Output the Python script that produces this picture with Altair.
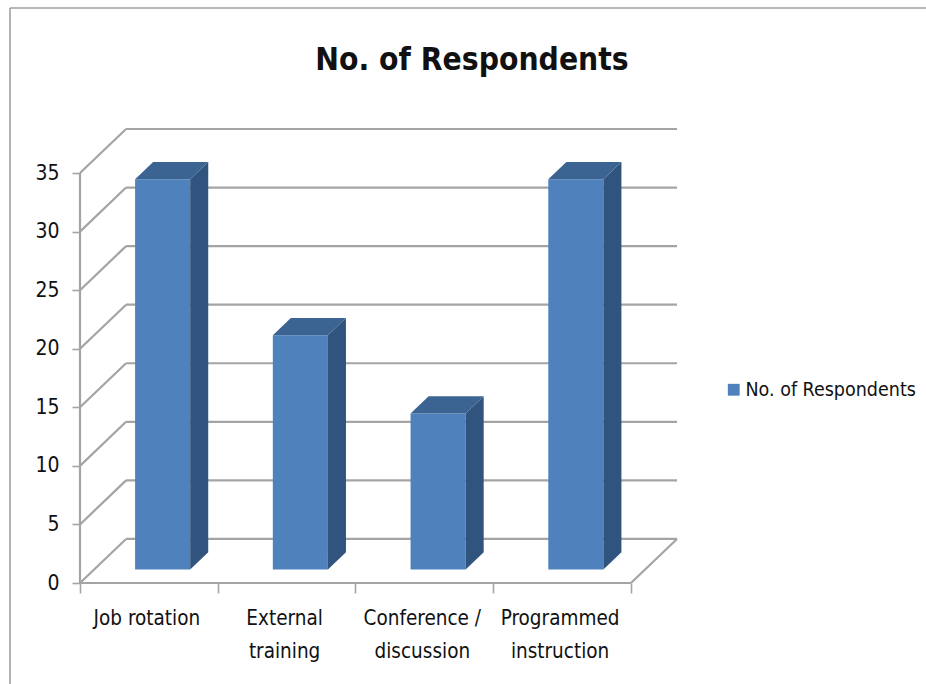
import altair as alt
import pandas as pd

# Chart content
series_name = "No. of Respondents"
categories = ["Job rotation", "External\ntraining", "Conference /\ndiscussion", "Programmed\ninstruction"]
respondents = [33.33, 20, 13.33, 33.33]
y_ticks = [0, 5, 10, 15, 20, 25, 30, 35]

# Pseudo-3D geometry, in data units (categories on x, respondents on y)
WALL_DX, WALL_DY = 0.3345, 3.76
BAR_LEFT, BAR_RIGHT = 0.40, 0.80
BAR_BASE = 1.15
BAR_DX, BAR_DY = 0.131, 1.47
X_MAX = 4 + WALL_DX
Y_MAX = 35 + WALL_DY

GRID = "#a4a4a4"
FRONT, SIDE, TOP = "#4f81bd", "#31547e", "#3c6493"
FONT = "DejaVu Sans Condensed, Lato, sans-serif"
W, H = 597, 454
PAD_L, PAD_T = 80, 129

x_scale = alt.Scale(domain=[0, X_MAX], nice=False, zero=False)
y_scale = alt.Scale(domain=[0, Y_MAX], nice=False, zero=False)

# Gridlines: back wall, side wall and floor edges as segments
segments = []
for i, v in enumerate(y_ticks):
    segments.append({"id": f"back{i}", "x": WALL_DX, "y": v + WALL_DY})
    segments.append({"id": f"back{i}", "x": X_MAX, "y": v + WALL_DY})
    segments.append({"id": f"side{i}", "x": 0, "y": v})
    segments.append({"id": f"side{i}", "x": WALL_DX, "y": v + WALL_DY})
segments += [
    {"id": "axisY", "x": 0, "y": 0}, {"id": "axisY", "x": 0, "y": 35},
    {"id": "axisX", "x": 0, "y": 0}, {"id": "axisX", "x": 4, "y": 0},
    {"id": "floor", "x": 4, "y": 0}, {"id": "floor", "x": X_MAX, "y": WALL_DY},
]

grid = alt.Chart(pd.DataFrame(segments)).mark_line(color=GRID, strokeWidth=2.2).encode(
    x=alt.X("x:Q", scale=x_scale, title=None,
            axis=alt.Axis(values=[0, 1, 2, 3, 4], labels=False, domain=False, grid=False,
                          tickColor=GRID, tickWidth=1.6, tickSize=10)),
    y=alt.Y("y:Q", scale=y_scale, title=None,
            axis=alt.Axis(values=y_ticks, domain=False, grid=False, tickColor=GRID,
                          tickWidth=1.6, tickSize=8, labelFont=FONT, labelFontSize=21,
                          labelColor="#111111", labelPadding=13)),
    detail="id:N",
)

# Bar faces
front_rows, side_rows, top_rows = [], [], []
for i, v in enumerate(respondents):
    l, r, b, t = i + BAR_LEFT, i + BAR_RIGHT, BAR_BASE, BAR_BASE + v
    front_rows.append({"x": l, "x2": r, "y": b, "y2": t, "series": series_name})
    side_rows += [
        {"id": i, "x": r, "y": b, "y2": t},
        {"id": i, "x": r + BAR_DX, "y": b + BAR_DY, "y2": t + BAR_DY},
    ]
    top_rows += [
        {"id": i, "x": l, "y": t, "y2": t},
        {"id": i, "x": l + BAR_DX, "y": t, "y2": t + BAR_DY},
        {"id": i, "x": r, "y": t, "y2": t + BAR_DY},
        {"id": i, "x": r + BAR_DX, "y": t + BAR_DY, "y2": t + BAR_DY},
    ]

front = alt.Chart(pd.DataFrame(front_rows)).mark_rect().encode(
    x=alt.X("x:Q", scale=x_scale),
    x2="x2:Q",
    y=alt.Y("y:Q", scale=y_scale),
    y2="y2:Q",
    color=alt.Color(
        "series:N",
        scale=alt.Scale(domain=[series_name], range=[FRONT]),
        legend=alt.Legend(title=None, orient="none", legendX=644, legendY=251,
                          symbolType="square", symbolSize=140, symbolStrokeWidth=0,
                          labelFont=FONT, labelFontSize=19.5, labelColor="#111111",
                          labelOffset=2, labelLimit=260),
    ),
)


def face(rows, colour):
    return alt.Chart(pd.DataFrame(rows)).mark_area(
        color=colour, interpolate="linear", orient="vertical"
    ).encode(
        x=alt.X("x:Q", scale=x_scale),
        y=alt.Y("y:Q", scale=y_scale, stack=None),
        y2="y2:Q",
        detail="id:N",
    )


sides = face(side_rows, SIDE)
tops = face(top_rows, TOP)

# Category labels under the axis
labels = alt.Chart(pd.DataFrame({
    "x": [i + 0.5 for i in range(len(categories))],
    "label": categories,
})).mark_text(font=FONT, fontSize=20.5, color="#111111", baseline="top", lineBreak="\n",
              lineHeight=33, dx=-2).encode(
    x=alt.X("x:Q", scale=x_scale),
    y=alt.value(H + 26),
    text="label:N",
)

# Chart heading
heading = alt.Chart(pd.DataFrame({"t": [series_name]})).mark_text(
    font=FONT, fontSize=31.5, fontWeight="bold", color="#111111", baseline="middle", align="center"
).encode(x=alt.value(472 - PAD_L), y=alt.value(61 - PAD_T), text="t:N")

# Outer picture frame along the left and top edges
frame_left = alt.Chart(pd.DataFrame({"a": [0]})).mark_rule(color="#a0a0a0", strokeWidth=1.6).encode(
    x=alt.value(10 - PAD_L), y=alt.value(8 - PAD_T), y2=alt.value(684 - PAD_T))
frame_top = alt.Chart(pd.DataFrame({"a": [0]})).mark_rule(color="#a0a0a0", strokeWidth=1.6).encode(
    x=alt.value(10 - PAD_L), x2=alt.value(926 - PAD_L), y=alt.value(8 - PAD_T))

chart = alt.layer(frame_left, frame_top, grid, front, sides, tops, labels, heading).properties(
    width=W, height=H,
    background="white",
    padding={"left": PAD_L, "top": PAD_T, "right": 926 - PAD_L - W, "bottom": 684 - PAD_T - H},
    autosize=alt.AutoSizeParams(type="none"),
).configure_view(stroke="transparent", strokeWidth=0)

chart.save("out.html", embed_options={"renderer": "svg", "actions": False})
